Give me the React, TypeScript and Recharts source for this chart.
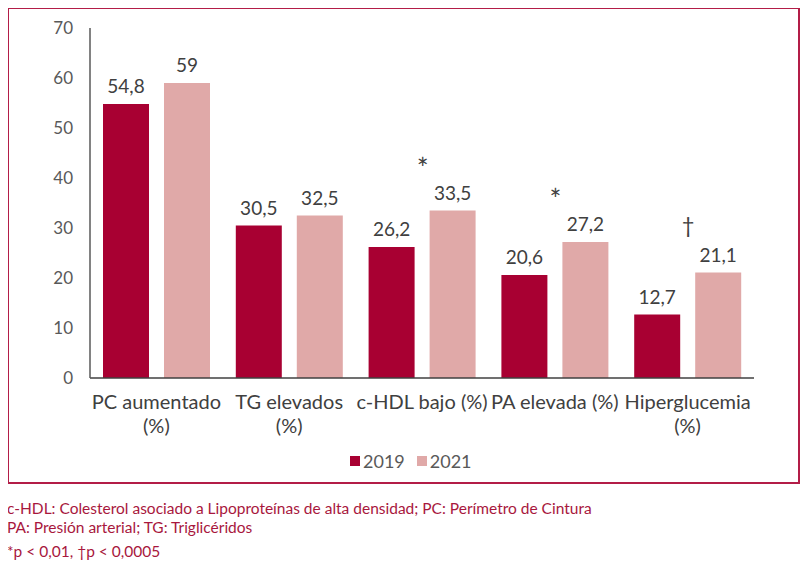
import { BarChart, Bar, XAxis, YAxis, Legend, LabelList } from 'recharts';

const categories = ['PC aumentado\n(%)', 'TG elevados\n(%)', 'c-HDL bajo (%)', 'PA elevada (%)', 'Hiperglucemia\n(%)'];
const values2019 = [54.8, 30.5, 26.2, 20.6, 12.7];
const values2021 = [59, 32.5, 33.5, 27.2, 21.1];
const significance = ['', '', '*', '*', '†'];
const yTicks = [0, 10, 20, 30, 40, 50, 60, 70];

const COLOR_2019 = '#a80032';
const COLOR_2021 = '#e0a9a8';
const FRAME = '#b31d47';
const FONT = 'Lato, "Open Sans", sans-serif';

const data = categories.map((name, i) => ({
  name,
  y2019: values2019[i],
  y2021: values2021[i],
  sig: significance[i],
}));

const fmt = (v: number) => String(v).replace('.', ',');

function CategoryTick({ x, y, payload }: any) {
  const lines = String(payload.value).split('\n');
  return (
    <text x={x} y={y} textAnchor="middle" fill="#404040" fontSize={20} fontFamily={FONT}>
      {lines.map((line, i) => (
        <tspan key={i} x={x} dy={i === 0 ? 31 : 24}>{line}</tspan>
      ))}
    </text>
  );
}

// asterisk / dagger centred over the pair of bars
function SigMark({ x, y, width, value }: any) {
  if (!value) return null;
  const star = value === '*';
  return (
    <text
      x={x + width / 2 - 30}
      y={star ? y - 32 : y - 40}
      textAnchor="middle"
      fill="#404040"
      fontSize={star ? 28 : 22}
      fontFamily={FONT}
    >
      {value}
    </text>
  );
}

function LegendBox() {
  const items = [
    { label: '2019', color: COLOR_2019 },
    { label: '2021', color: COLOR_2021 },
  ];
  return (
    <div style={{ display: 'flex', alignItems: 'center', fontFamily: FONT, fontSize: 18, color: '#595959' }}>
      {items.map((it) => (
        <div key={it.label} style={{ display: 'flex', alignItems: 'center', marginRight: 12 }}>
          <span style={{ width: 10, height: 10, background: it.color, marginRight: 3, display: 'inline-block' }} />
          <span>{it.label}</span>
        </div>
      ))}
    </div>
  );
}

export default function App() {
  return (
    <div style={{ position: 'relative', margin: -8, width: 808, height: 575, background: '#fff', overflow: 'hidden' }}>
      <div
        style={{
          position: 'absolute',
          left: 7,
          top: 7,
          width: 793,
          height: 477,
          border: `2px solid ${FRAME}`,
          boxSizing: 'border-box',
        }}
      />
      <div style={{ position: 'absolute', left: 0, top: 0 }}>
        <BarChart
          width={808}
          height={480}
          data={data}
          margin={{ top: 28, right: 54, left: 30, bottom: 72 }}
          barCategoryGap={13}
          barGap={15}
        >
          <XAxis
            dataKey="name"
            interval={0}
            axisLine={{ stroke: '#404040', strokeWidth: 1.5 }}
            tickLine={false}
            tickSize={0}
            tickMargin={0}
            height={30}
            tick={<CategoryTick />}
          />
          <YAxis
            width={60}
            domain={[0, 70]}
            ticks={yTicks}
            interval={0}
            axisLine={{ stroke: '#595959', strokeWidth: 1.5 }}
            tickLine={false}
            tickSize={0}
            tickMargin={17}
            tick={{ fill: '#595959', fontSize: 17, fontFamily: FONT }}
          />
          <Legend
            layout="horizontal"
            verticalAlign="middle"
            align="center"
            wrapperStyle={{ top: 450, left: 350, width: 'auto' }}
            content={<LegendBox />}
          />
          <Bar dataKey="y2019" name="2019" fill={COLOR_2019} isAnimationActive={false}>
            <LabelList dataKey="y2019" position="top" offset={11} formatter={fmt} fill="#404040" fontSize={19} fontFamily={FONT} />
          </Bar>
          <Bar dataKey="y2021" name="2021" fill={COLOR_2021} isAnimationActive={false}>
            <LabelList dataKey="y2021" position="top" offset={11} formatter={fmt} fill="#404040" fontSize={19} fontFamily={FONT} />
            <LabelList dataKey="sig" content={<SigMark />} />
          </Bar>
        </BarChart>
      </div>
      <div
        style={{
          position: 'absolute',
          left: 7,
          top: 499,
          width: 790,
          fontFamily: FONT,
          fontSize: 15.5,
          lineHeight: '19px',
          color: '#a8173d',
          whiteSpace: 'nowrap',
        }}
      >
        <div>c-HDL: Colesterol asociado a Lipoproteínas de alta densidad; PC: Perímetro de Cintura</div>
        <div>PA: Presión arterial; TG: Triglicéridos</div>
        <div style={{ marginTop: 5 }}>*p &lt; 0,01, †p &lt; 0,0005</div>
      </div>
    </div>
  );
}
